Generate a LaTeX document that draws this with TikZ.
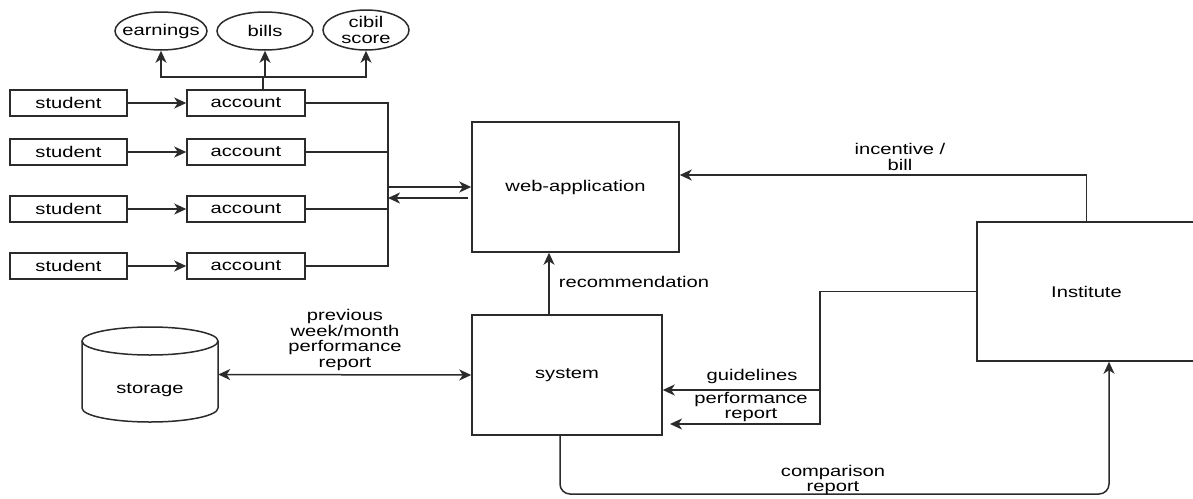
\documentclass[tikz,border=0pt]{standalone}
\usepackage{fontspec}
\setmainfont{Liberation Sans}[FakeStretch=1.3]
\usetikzlibrary{arrows.meta,shapes.geometric}
\newcommand\lab{\fontsize{15.5pt}{15.5pt}\selectfont}
\definecolor{lc}{HTML}{2B2B2B}
\begin{document}
\begin{tikzpicture}[x=1pt,y=-1pt,
  every node/.style={font=\lab, text=black, align=center, inner sep=0pt},
  box/.style={draw=lc, line width=1.5pt, rectangle},
  ell/.style={draw=lc, line width=1.5pt, ellipse, inner xsep=-8pt, inner ysep=-2pt},
  ln/.style={draw=lc, line width=1.5pt},
  arr/.style={ln, -{Stealth[length=12pt,width=11pt,inset=3.5pt]}},
  arrb/.style={ln, {Stealth[length=12pt,width=11pt,inset=3.5pt]}-{Stealth[length=12pt,width=11pt,inset=3.5pt]}}]
\useasboundingbox (0,0) rectangle (1193,498);
\fill[white] (0,0) rectangle (1193,498);
\clip (0,0) rectangle (1193,498);

% ellipses
\node[ell, minimum width=92pt, minimum height=38pt] (earn) at (161,31) {earnings};
\node[ell, minimum width=96pt, minimum height=38pt] (bill) at (265,31) {bills};
\node[ell, minimum width=86pt, minimum height=40pt] (cib) at (366,30) {cibil\\score};

% students and accounts
\foreach \i/\y in {1/103,2/152,3/209,4/266}{
  \node[box, minimum width=117pt, minimum height=26pt] (s\i) at (68.5,\y) {student};
  \node[box, minimum width=118pt, minimum height=26pt] (a\i) at (246,\y) {account};
  \draw[arr] (s\i.east) -- (a\i.west);
}

% main boxes
\node[box, minimum width=207pt, minimum height=130pt] (web) at (575.5,187) {web-application};
\node[box, minimum width=190pt, minimum height=120pt] (sys) at (567,375) {system};
\node[box, minimum width=219pt, minimum height=139pt] (inst) at (1086.5,291.5) {Institute};

% storage cylinder
\node[minimum width=136pt, minimum height=95pt] (stor) at (150,374.5) {};
\draw[ln, fill=white] (82,341) -- (82,408) arc[start angle=180, end angle=360, x radius=68pt, y radius=14pt] -- (218,341);
\draw[ln] (150,341) ellipse [x radius=68pt, y radius=14pt];
\node (storlab) at (150,390) {storage};

% account tree
\coordinate (tj) at (263,77);
\draw[ln] (a1.north -| tj) -- (tj);
\draw[arr] (tj) -| (earn.south);
\draw[arr] (tj) -| (cib.south);
\draw[arr] (bill.south |- tj) -- (bill.south);

% bus to web-application
\coordinate (bt) at (388,103);
\coordinate (bb) at (388,266);
\draw[ln] (a1.east) -| (bb) -- (a4.east);
\draw[ln] (a2.east) -- (a2.east -| bt);
\draw[ln] (a3.east) -- (a3.east -| bt);
\draw[arr] (web.west -| bt) -- (web.west);
\coordinate (bk) at (468,198);
\draw[arr] (bk) -- (bk -| bt);

% institute -> web
\coordinate (ib) at (1086.5,175);
\draw[arr] (inst.north) -- (ib) -- (ib -| web.east);
\node at (900,157) {incentive /\\bill};

% system -> web
\draw[arr] ([xshift=-18pt]sys.north) -- ([xshift=-18pt]sys.north |- web.south);
\node at (634,282) {recommendation};

% storage <-> system
\draw[arrb] (stor.east) -- (sys.west);
\node at (345,340) {previous\\week/month\\performance\\report};

% institute -> system
\coordinate (gv) at (820,424);
\coordinate (pr) at (670,424);
\coordinate (gl) at (820,390);
\draw[arr] (inst.west) -| (gv) -- (pr);
\draw[arr] (gl) -- (gl -| sys.east);
\node at (752,376) {guidelines};
\node at (751,407) {performance\\report};

% system -> institute
\coordinate (cl) at (560,494);
\coordinate (cr) at (1109,494);
\draw[arr, rounded corners=10pt] (sys.south -| cl) -- (cl) -- (cr) -- (cr |- inst.south);
\node at (833,480) {comparison\\report};
\end{tikzpicture}
\end{document}
